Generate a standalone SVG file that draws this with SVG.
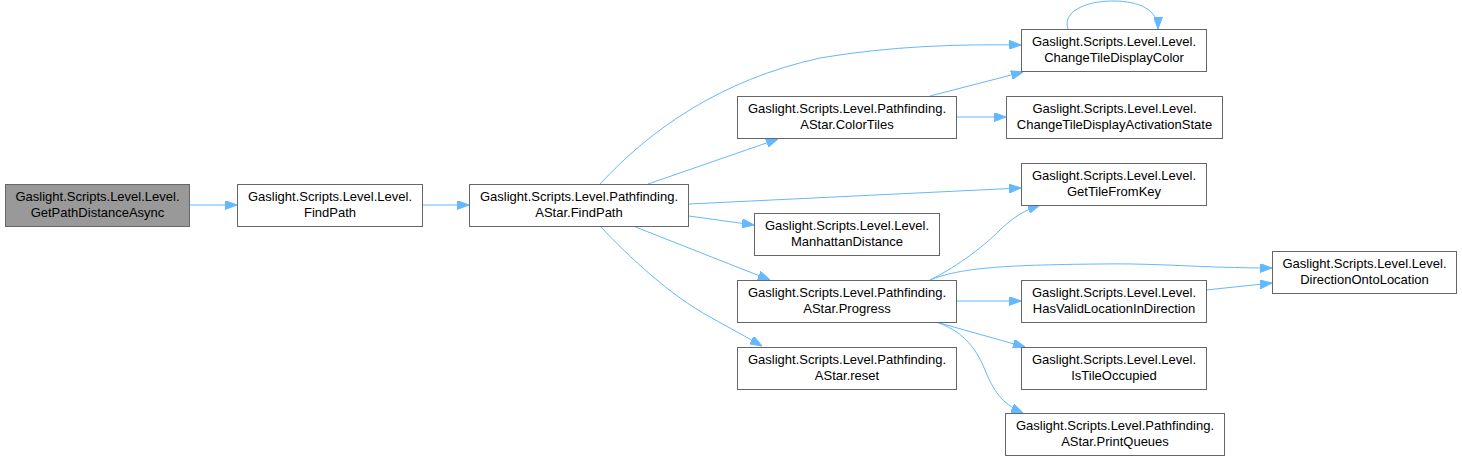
<svg xmlns="http://www.w3.org/2000/svg" width="1462" height="461" viewBox="0 0 1462 461">
<style>
.n rect{fill:#ffffff;stroke:#666666;stroke-width:1}
.n.cur rect{fill:#999999}
.n text{font-family:"Liberation Sans",Arial,sans-serif;font-size:13px;fill:#000000;text-anchor:middle}
.e path{fill:none;stroke:#63b8ff;stroke-width:1;marker-end:url(#ah)}
</style>
<defs>
<marker id="ah" viewBox="0 0 12 9" refX="12" refY="4.5" markerWidth="12" markerHeight="9" markerUnits="userSpaceOnUse" orient="auto">
<path d="M0,0 L12,4.5 L0,9 z" fill="#63b8ff" stroke="#63b8ff" stroke-width="1"/>
</marker>
</defs>
<rect width="1462" height="461" fill="#ffffff"/>
<g id="edges" class="e">
<path d="M189,205 L237,205"/>
<path d="M422,205 L469,205"/>
<path d="M600,184 C650,130 720,80 820,58 C890,46 960,44 1021,45"/>
<path d="M648,184 L778,139"/>
<path d="M689,204 L1021,188"/>
<path d="M689,216 L754,225"/>
<path d="M633,226 L770,280"/>
<path d="M600,226 C630,258 670,295 710,317 C730,328 748,338 762,346"/>
<path d="M930,96 L1023,72"/>
<path d="M957,117 L1006,117"/>
<path d="M1068,29 C1062,12 1085,1 1113,1 C1140,1 1158,10 1158,29"/>
<path d="M930,280 C960,265 985,245 1000,230 C1012,218 1025,210 1040,205"/>
<path d="M930,280 C960,268 1000,265 1100,264 C1160,263 1200,268 1272,268"/>
<path d="M957,301 L1021,301"/>
<path d="M936,322 L1025,347"/>
<path d="M936,322 C960,330 975,345 985,370 C995,395 1005,405 1023,413"/>
<path d="M1206,290 L1272,283"/>
</g>
<g id="node1" class="n cur"><rect x="5.5" y="184.5" width="184" height="42"/><text x="97.5" y="201">Gaslight.Scripts.Level.Level.</text><text x="97.5" y="217">GetPathDistanceAsync</text></g>
<g id="node2" class="n"><rect x="237.5" y="184.5" width="185" height="42"/><text x="330" y="201">Gaslight.Scripts.Level.Level.</text><text x="330" y="217">FindPath</text></g>
<g id="node3" class="n"><rect x="469.5" y="184.5" width="219" height="42"/><text x="579" y="201">Gaslight.Scripts.Level.Pathfinding.</text><text x="579" y="217">AStar.FindPath</text></g>
<g id="node4" class="n"><rect x="737.5" y="96.5" width="219" height="42"/><text x="847" y="113">Gaslight.Scripts.Level.Pathfinding.</text><text x="847" y="129">AStar.ColorTiles</text></g>
<g id="node5" class="n"><rect x="1021.5" y="29.5" width="185" height="42"/><text x="1114" y="46">Gaslight.Scripts.Level.Level.</text><text x="1114" y="62">ChangeTileDisplayColor</text></g>
<g id="node6" class="n"><rect x="1006.5" y="96.5" width="216" height="42"/><text x="1114.5" y="113">Gaslight.Scripts.Level.Level.</text><text x="1114.5" y="129">ChangeTileDisplayActivationState</text></g>
<g id="node7" class="n"><rect x="1021.5" y="163.5" width="185" height="42"/><text x="1114" y="180">Gaslight.Scripts.Level.Level.</text><text x="1114" y="196">GetTileFromKey</text></g>
<g id="node8" class="n"><rect x="754.5" y="213.5" width="185" height="42"/><text x="847" y="230">Gaslight.Scripts.Level.Level.</text><text x="847" y="246">ManhattanDistance</text></g>
<g id="node9" class="n"><rect x="737.5" y="280.5" width="219" height="42"/><text x="847" y="297">Gaslight.Scripts.Level.Pathfinding.</text><text x="847" y="313">AStar.Progress</text></g>
<g id="node10" class="n"><rect x="737.5" y="347.5" width="219" height="42"/><text x="847" y="364">Gaslight.Scripts.Level.Pathfinding.</text><text x="847" y="380">AStar.reset</text></g>
<g id="node11" class="n"><rect x="1272.5" y="251.5" width="184" height="42"/><text x="1364.5" y="268">Gaslight.Scripts.Level.Level.</text><text x="1364.5" y="284">DirectionOntoLocation</text></g>
<g id="node12" class="n"><rect x="1021.5" y="280.5" width="185" height="42"/><text x="1114" y="297">Gaslight.Scripts.Level.Level.</text><text x="1114" y="313">HasValidLocationInDirection</text></g>
<g id="node13" class="n"><rect x="1021.5" y="347.5" width="185" height="42"/><text x="1114" y="364">Gaslight.Scripts.Level.Level.</text><text x="1114" y="380">IsTileOccupied</text></g>
<g id="node14" class="n"><rect x="1005.5" y="413.5" width="219" height="42"/><text x="1115" y="430">Gaslight.Scripts.Level.Pathfinding.</text><text x="1115" y="446">AStar.PrintQueues</text></g>
</svg>
